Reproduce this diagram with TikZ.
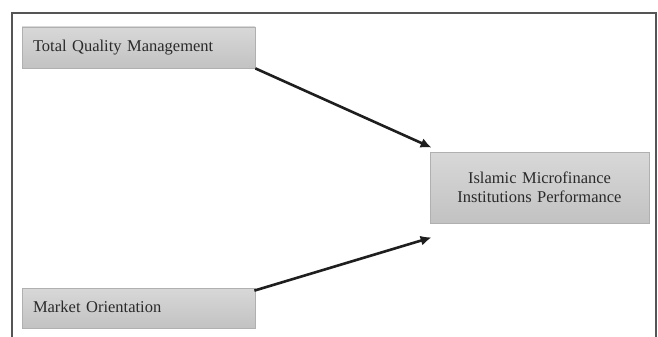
\documentclass[tikz,border=0pt]{standalone}
\usepackage{fontspec}
\setmainfont{Liberation Serif}
\usetikzlibrary{arrows.meta}
\definecolor{frameC}{HTML}{555555}
\definecolor{boxTop}{HTML}{D8D8D8}
\definecolor{boxBot}{HTML}{C2C2C2}
\definecolor{boxLine}{HTML}{B0B0B0}
\definecolor{txtC}{HTML}{2A2A2A}
\definecolor{arrC}{HTML}{1E1E1E}
\tikzset{
  gbox/.style={rectangle, draw=boxLine, line width=0.8pt, top color=boxTop, bottom color=boxBot,
    text=txtC, font=\fontsize{16.5}{19}\selectfont, inner sep=0pt},
  link/.style={draw=arrC, line width=2.6pt, -{Latex[length=11pt,width=10pt]}}
}
\begin{document}
\begin{tikzpicture}[x=1pt,y=-1pt]
\useasboundingbox (0,0) rectangle (658,337);
\fill[white] (0,0) rectangle (658,337);
\draw[frameC, line width=1.2pt] (12,337) -- (12,13) -- (656,13) -- (656,337);
\node[gbox, minimum width=233pt, minimum height=41pt, text width=211pt, align=left] (tqm) at (138.5,47.5) {\raisebox{2pt}{Total Quality Management}};
\node[gbox, minimum width=219pt, minimum height=71pt, text width=219pt, align=center] (imf) at (539.5,187.5) {Islamic Microfinance\\Institutions Performance};
\node[gbox, minimum width=233pt, minimum height=40pt, text width=211pt, align=left] (mo) at (138.5,308) {\raisebox{3pt}{Market Orientation}};
\coordinate (e1) at ([shift={(2,-4)}]imf.north west);
\coordinate (s2) at ([shift={(-1,3)}]mo.north east);
\coordinate (e2) at ([shift={(2,14)}]imf.south west);
\draw[link] (tqm.south east) -- (e1);
\draw[link] (s2) -- (e2);
\end{tikzpicture}
\end{document}
